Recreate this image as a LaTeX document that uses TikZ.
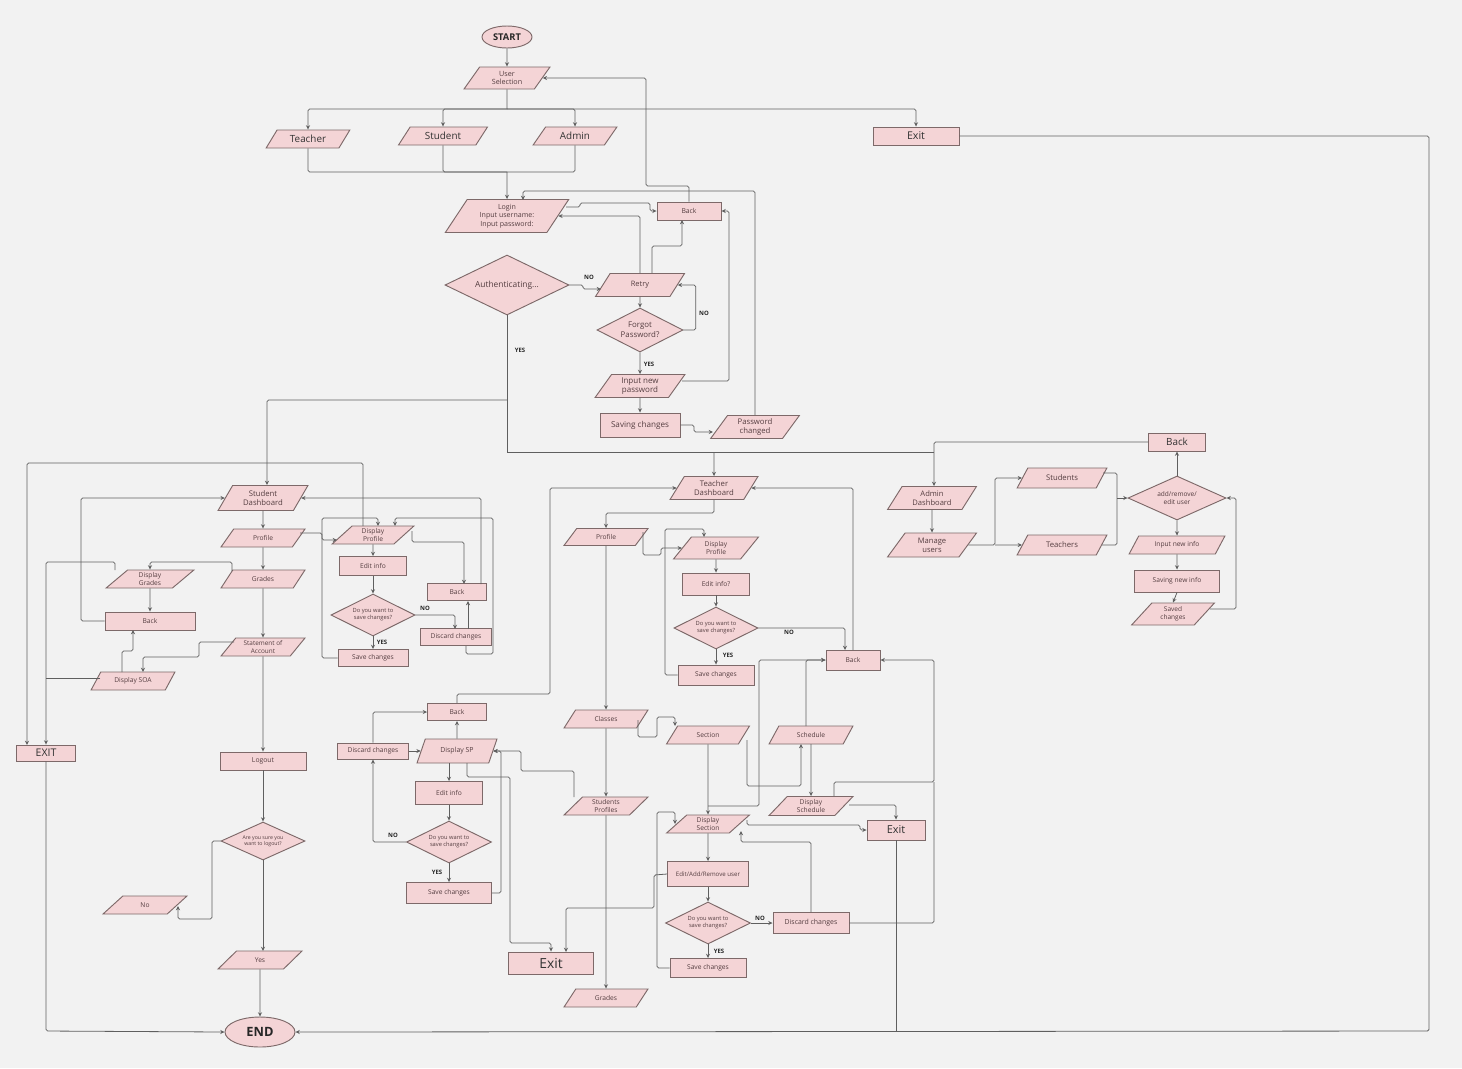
\documentclass[tikz,border=0pt]{standalone}
\usepackage{fontspec}
\setmainfont{Open Sans}
\usetikzlibrary{shapes.geometric,arrows.meta,calc}
\definecolor{bgc}{RGB}{242,242,242}
\definecolor{nfill}{RGB}{244,212,214}
\definecolor{nbord}{RGB}{125,105,105}
\definecolor{lcol}{RGB}{95,95,95}
\definecolor{tcol}{RGB}{85,62,65}
\newcommand\fs[2]{\fontsize{#1}{#2}\selectfont}
\tikzset{
  base/.style={draw=nbord, fill=nfill, text=tcol, align=center, inner sep=0pt, line width=0.7pt, font=\fs{5}{6}},
  rb/.style 2 args={base, rectangle, minimum width=#1*0.75pt, minimum height=#2*0.75pt},
  pA/.style 2 args={base, trapezium, trapezium left angle=50, trapezium right angle=130, trapezium stretches=true, minimum width=#1*0.75pt, minimum height=#2*0.75pt},
  pB/.style 2 args={base, trapezium, trapezium left angle=58, trapezium right angle=122, trapezium stretches=true, minimum width=#1*0.75pt, minimum height=#2*0.75pt},
  db/.style 2 args={base, diamond, aspect=2, minimum width=#1*0.75pt, minimum height=#2*0.75pt},
  eb/.style 2 args={base, ellipse, minimum width=#1*0.75pt, minimum height=#2*0.75pt},
  ln/.style={draw=lcol, line width=0.6pt, rounded corners=1.2pt},
  ar/.style={ln, -{Stealth[length=3.2pt,width=3pt]}},
  lab/.style={font=\bfseries\fs{4.5}{5}, text=black!85, inner sep=0pt},
  q/.style={font=\fs{4.3}{5.2}}
}
\begin{document}
\begin{tikzpicture}[x=0.75pt,y=-0.75pt]
\fill[bgc] (0,0) rectangle (1462,1068);
\useasboundingbox (0,0) rectangle (1462,1068);

% ================= NODES =================
% top
\node[eb={50}{22}, font=\bfseries\fs{7}{8}, text=black!85] (start) at (507,37) {START};
\node[pB={86}{22}, font=\fs{5.4}{6.5}] (usel) at (507,78) {User\\Selection};
\node[pA={84}{18}, font=\fs{7.4}{9}, text=black!80] (teacher) at (308,139) {Teacher};
\node[pA={89}{18}, font=\fs{7.4}{9}, text=black!80] (student) at (443,136) {Student};
\node[pA={84}{18}, font=\fs{7.4}{9}, text=black!80] (admin) at (575,136) {Admin};
\node[rb={86}{18}, font=\fs{8}{9}, text=black!80] (exitt) at (916,136) {Exit};
\node[pB={124}{33}, font=\fs{5.3}{6.4}] (login) at (507,216) {Login\\Input username:\\Input password:};
\node[rb={64}{18}, font=\fs{5.1}{6}] (backt) at (689,211) {Back};
\node[db={124}{60}, font=\fs{6.3}{7.5}] (auth) at (507,285) {Authenticating...};
\node[pB={89}{23}, font=\fs{5.6}{7}] (retry) at (640,285) {Retry};
\node[db={86}{44}, font=\fs{5.9}{7.2}] (forgot) at (640,330) {Forgot\\Password?};
\node[pB={90}{23}, font=\fs{6}{7.2}] (newpw) at (640,386) {Input new\\password};
\node[rb={80}{24}, font=\fs{6.1}{7}] (savech) at (640,425) {Saving changes};
\node[pB={89}{23}, font=\fs{5.8}{7}] (pwch) at (755,427) {Password\\changed};
% student
\node[pB={90}{25}, font=\fs{5.8}{7}] (sdash) at (263,498) {Student\\Dashboard};
\node[pA={84}{18}] (sprof) at (263,538) {Profile};
\node[pA={84}{18}] (grades) at (263,579) {Grades};
\node[pA={88}{18}, font=\fs{5}{5.8}] (dgrades) at (150,579) {Display\\Grades};
\node[rb={90}{18}] (sback) at (150,621) {Back};
\node[pA={84}{18}, font=\fs{4.8}{5.6}] (stmt) at (263,647) {Statement of\\Account};
\node[pA={84}{18}] (dsoa) at (133,681) {Display SOA};
\node[rb={59}{16}, font=\fs{7.9}{9}, text=black!80] (sexit) at (46,753) {EXIT};
\node[rb={86}{18}, font=\fs{5.1}{6}] (logout) at (263,761) {Logout};
\node[db={84}{38}, font=\fs{3.9}{4.8}] (ldiam) at (263,841) {Are you sure you\\want to logout?};
\node[pA={84}{18}] (no) at (145,905) {No};
\node[pA={84}{18}] (yes) at (260,960) {Yes};
\node[eb={70}{30}, font=\bfseries\fs{9.6}{11}, text=black!85] (endn) at (260,1032) {END};
% student profile
\node[pA={82}{18}, font=\fs{5}{5.8}] (dprof) at (373,535) {Display\\Profile};
\node[rb={67}{19}] (sedit) at (373,566) {Edit info};
\node[db={84}{42}, q] (sdiam) at (373,615) {Do you want to\\save changes?};
\node[rb={70}{17}] (ssave) at (373,658) {Save changes};
\node[rb={59}{17}] (sback2) at (457,592) {Back};
\node[rb={71}{17}] (sdisc) at (456,637) {Discard changes};
% teacher
\node[pB={88}{23}, font=\fs{5.8}{7}] (tdash) at (714,488) {Teacher\\Dashboard};
\node[pA={84}{17}] (tprof) at (606,537) {Profile};
\node[pB={85}{22}, font=\fs{5}{6}] (tdprof) at (716,548) {Display\\Profile};
\node[rb={67}{22}] (tedit) at (716,584) {Edit info?};
\node[db={84}{42}, q] (tdiam) at (716,628) {Do you want to\\save changes?};
\node[rb={76}{20}] (tsave) at (716,675) {Save changes};
\node[rb={54}{20}] (tback) at (853,660) {Back};
\node[pA={84}{18}] (classes) at (606,719) {Classes};
\node[pA={84}{18}, font=\fs{5}{5.8}] (sprofs) at (606,806) {Students\\Profiles};
\node[pA={84}{18}] (tgrades) at (606,998) {Grades};
% display SP
\node[rb={59}{17}] (spback) at (457,712) {Back};
\node[pB={80}{24}, font=\fs{5.2}{6}] (dsp) at (457,751) {Display SP};
\node[rb={71}{16}] (spdisc) at (373,751) {Discard changes};
\node[rb={67}{23}] (spedit) at (449,793) {Edit info};
\node[db={85}{42}, q] (spdiam) at (449,842) {Do you want to\\save changes?};
\node[rb={85}{21}] (spsave) at (449,893) {Save changes};
\node[rb={85}{22}, font=\fs{10.4}{12}, text=black!80] (spexit) at (551,963) {Exit};
% section / schedule
\node[pA={83}{18}] (section) at (708,735) {Section};
\node[pA={84}{18}] (sched) at (811,735) {Schedule};
\node[pA={84}{19}, font=\fs{5}{5.8}] (dsched) at (811,806) {Display\\Schedule};
\node[pA={83}{18}, font=\fs{5}{5.8}] (dsec) at (708,824) {Display\\Section};
\node[rb={58}{20}, font=\fs{8.2}{9.5}, text=black!80] (texit) at (896,830) {Exit};
\node[rb={81}{25}, font=\fs{4.6}{5.5}] (ear) at (708,874) {Edit/Add/Remove user};
\node[db={85}{42}, q] (tdiam2) at (708,923) {Do you want to\\save changes?};
\node[rb={76}{21}, font=\fs{5.2}{6}] (tdisc) at (811,923) {Discard changes};
\node[rb={76}{19}] (tsave2) at (708,968) {Save changes};
% admin
\node[rb={57}{18}, font=\fs{7.4}{8.5}, text=black!80] (backa) at (1177,442) {Back};
\node[pB={89}{23}, font=\fs{5.7}{7}] (adash) at (932,498) {Admin\\Dashboard};
\node[pB={89}{24}, font=\fs{5.7}{7}] (manage) at (932,545) {Manage\\users};
\node[pA={90}{20}, font=\fs{5.8}{7}] (astud) at (1062,478) {Students};
\node[pA={90}{20}, font=\fs{5.8}{7}] (ateach) at (1062,545) {Teachers};
\node[db={98}{44}, font=\fs{4.9}{6}] (adiam) at (1177,498) {add/remove/\\edit user};
\node[pA={96}{18}] (inew) at (1177,545) {Input new info};
\node[rb={85}{22}] (asaving) at (1177,581) {Saving new info};
\node[pA={83}{22}, font=\fs{4.9}{5.8}] (asaved) at (1173,614) {Saved\\changes};

% ================= CONNECTORS =================
% top
\draw[ar] (start) -- (usel);
\coordinate (j0) at (507,109);
\draw[ln] (usel.south) -- (j0);
\draw[ar] (j0) -| (teacher.north);
\draw[ar] (j0) -| (student.north);
\draw[ar] (j0) -| (admin.north);
\draw[ar] (j0) -| (exitt.north);
\coordinate (j1) at (507,172);
\draw[ln] (teacher.south) |- (j1);
\draw[ln] (student.south) |- (j1);
\draw[ln] (admin.south) |- (j1);
\draw[ar] (j1) -- (login.north);
\draw[ar] (backt.north) |- (646,186) |- (usel.east);
\draw[ar] (566,207) -- (580,207) -- (580,203) -- (650,203) -- (650,211) -- (backt.west);
\draw[ar] (retry.north) |- (login.east);
\draw[ar] (652,273) -- (652,246) -- (682,246) -- (682,220);
\draw[ar] (auth.east) -- (583,285) -- (583,289) -- (601,289);
\draw[ar] (retry.south) -- (forgot.north);
\draw[ar] (forgot.east) -| ($(retry.east)+(18,0)$) -- (retry.east);
\draw[ar] (forgot.south) -- (newpw.north);
\draw[ar] (682,381) -| (729,211) -- (backt.east);
\draw[ar] (newpw.south) -- (savech.north);
\draw[ar] (savech.east) -- (694,425) -- (694,432) -- (713,432);
\draw[ar] (pwch.north) |- (523,191) -- (523,200);
\draw[ar] (exitt.east) -- (1429,136) -- (1429,1031) -- (endn.east);
\node[lab] at (589,277) {NO};
\node[lab] at (520,350) {YES};
\node[lab] at (704,313) {NO};
\node[lab] at (649,364) {YES};

% branch from authentication
\draw[ln] (auth.south) -- (507,452);
\draw[ar] (507,400) -| (267,485);
\draw[ln] (507,452) -- (934,452);
\draw[ar] (714,452) -- (tdash.north);

% student
\draw[ar] (sdash.south) -- (sprof.north);
\draw[ar] (sprof.south) -- (grades.north);
\draw[ar] (grades.south) -- (stmt.north);
\draw[ar] (stmt.south) -- (logout.north);
\draw[ar] (232,571) |- (150,562) -- (dgrades.north);
\draw[ar] (dgrades.south) -- (sback.north);
\draw[ar] (sback.west) -- (81,621) |- (sdash.west);
\draw[ar] (115,570) |- (46,562) -- (sexit.north);
\draw[ar] (234,642) -- (199,642) -- (199,657) -- (143,657) -- (143,672);
\draw[ar] (122,672) -- (122,651) -- (133,651) -- (133,630);
\draw[ln] (100,678) -- (46,678);
\draw[ar] (sexit.south) -- (46,1031) -- (endn.west);
\draw[ar] (logout.south) -- (ldiam.north);
\draw[ar] (ldiam.west) -- (212,841) -- (212,919) -- (178,919) -- (178,906);
\draw[ar] (ldiam.south) -- (263,951);
\draw[ar] (yes.south) -- (endn.north);

% student profile
\draw[ar] (300,533) -- (322,533) -- (322,540) -- (337,540);
\draw[ar] (363,526) -- (363,463) -- (27,463) -- (27,745);
\draw[ar] (dprof.south) -- (sedit.north);
\draw[ar] (sedit.south) -- (sdiam.north);
\draw[ar] (sdiam.south) -- (ssave.north);
\draw[ar] (sdiam.east) -| (455,629);
\draw[ar] (468,629) -- (468,601);
\draw[ar] (412,531) -- (412,542) -- (464,542) -- (464,584);
\draw[ar] (481,584) -- (481,498) -- (sdash.east);
\draw[ar] (ssave.west) -- (322,658) -- (322,518) -- (378,518) -- (378,526);
\draw[ar] (466,646) -- (466,654) -- (493,654) -- (493,518) -- (395,518) -- (395,526);
\node[lab] at (425,608) {NO};
\node[lab] at (382,642) {YES};

% teacher
\draw[ar] (tdash.south) -- (714,513) -| (tprof.north);
\draw[ar] (643,532) -- (643,555) -- (661,555) -- (661,548) -- (tdprof.west);
\draw[ar] (tdprof.south) -- (tedit.north);
\draw[ar] (tedit.south) -- (tdiam.north);
\draw[ar] (tdiam.south) -- (tsave.north);
\draw[ar] (tdiam.east) -| (845,650);
\draw[ar] (tsave.west) -- (665,675) -- (665,529) -- (704,529) -- (704,537);
\draw[ar] (853,650) -- (853,488) -- (tdash.east);
\draw[ar] (tprof.south) -- (classes.north);
\draw[ar] (classes.south) -- (sprofs.north);
\draw[ar] (sprofs.south) -- (tgrades.north);
\node[lab] at (789,632) {NO};
\node[lab] at (728,655) {YES};

% display SP
\draw[ar] (spback.north) -- (457,694) -- (550,694) -- (550,488) -- (tdash.west);
\draw[ar] (dsp.north) -- (spback.south);
\draw[ar] (spdisc.east) -- (dsp.west);
\draw[ar] (spdisc.north) -- (373,712) -- (spback.west);
\draw[ar] (449,763) -- (spedit.north);
\draw[ar] (spedit.south) -- (spdiam.north);
\draw[ar] (spdiam.south) -- (spsave.north);
\draw[ar] (spdiam.west) -- (373,842) -- (spdisc.south);
\draw[ar] (spsave.east) -- (501,893) -- (501,751) -- (dsp.east);
\draw[ar] (574,797) -- (574,771) -- (521,771) -- (521,751) -- (dsp.east);
\draw[ar] (467,763) -- (467,777) -- (510,777) -- (510,943) -- (551,943) -- (spexit.north);
\node[lab] at (393,835) {NO};
\node[lab] at (437,872) {YES};

% section / schedule
\draw[ar] (638,720) -- (638,737) -- (657,737) -- (657,717) -- (675,717) -- (675,726);
\draw[ar] (section.south) -- (dsec.north);
\draw[ar] (747,740) -- (747,786) -- (801,786) -- (801,744);
\draw[ar] (811,744) -- (dsched.north);
\draw[ar] (806,726) -- (806,660) -- (tback.west);
\draw[ar] (708,806) -- (759,806) -- (759,660) -- (tback.west);
\draw[ar] (849,805) -- (896,805) -- (texit.north);
\draw[ar] (834,796) -- (834,782) -- (934,782) -- (934,660) -- (tback.east);
\draw[ln] (tdisc.east) -- (934,923) -- (934,782);
\draw[ar] (747,820) -- (747,825) -- (860,825) -- (860,830) -- (texit.west);
\draw[ar] (tdisc.north) -- (811,842) -- (741,842) -- (741,831);
\draw[ar] (dsec.south) -- (ear.north);
\draw[ar] (ear.south) -- (tdiam2.north);
\draw[ar] (tdiam2.east) -- (tdisc.west);
\draw[ar] (tdiam2.south) -- (tsave2.north);
\draw[ar] (tsave2.west) -- (657,968) -- (657,812) -- (675,812) -- (675,824);
\draw[ar] (ear.west) -- (654,875) -- (654,908) -- (566,908) -- (566,952);
\draw[ln] (texit.south) -- (896,1031);
\node[lab] at (760,918) {NO};
\node[lab] at (719,951) {YES};

% admin
\draw[ar] (backa.west) -- (934,442) -- (934,486);
\draw[ar] (adash.south) -- (manage.north);
\draw[ar] (manage.east) -- (995,545) |- (astud.west);
\draw[ar] (995,545) -- (ateach.west);
\draw[ln] (1103,473) -- (1117,473) -- (1117,545) -- (1102,545);
\draw[ar] (1117,498) -- (adiam.west);
\draw[ar] (adiam.north) -- (backa.south);
\draw[ar] (adiam.south) -- (inew.north);
\draw[ar] (inew.south) -- (asaving.north);
\draw[ar] (asaving.south) -- (asaved.north);
\draw[ar] (1210,609) -- (1236,609) -- (1236,498) -- (adiam.east);
\end{tikzpicture}
\end{document}
